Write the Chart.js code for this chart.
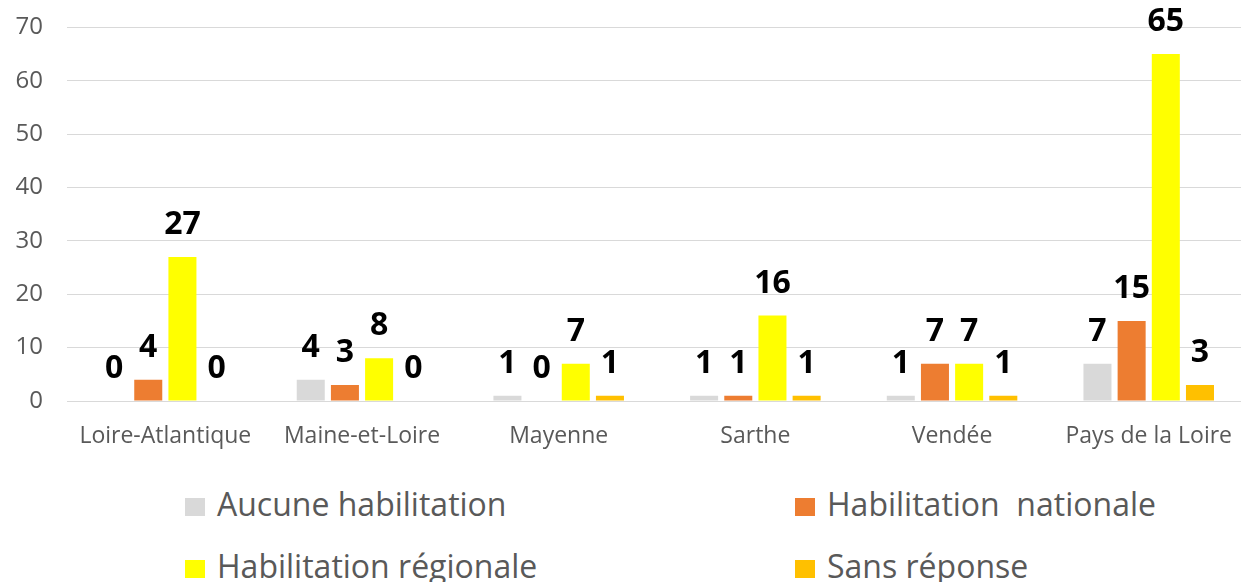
<!DOCTYPE html>
<html>
<head>
<meta charset="utf-8">
<script src="https://cdn.jsdelivr.net/npm/chart.js@4/dist/chart.umd.min.js"></script>
<style>
  html, body { margin: 0; padding: 0; background: #fff; }
  body { width: 1241px; height: 582px; position: relative; overflow: hidden; font-family: "Open Sans", sans-serif; }
  #wrap { position: absolute; left: 0; top: -11px; width: 1241px; height: 471px; overflow: hidden; }
  .leg { position: absolute; height: 40px; color: #595959; font-size: 32px; font-weight: 400; white-space: pre; line-height: 40px; }
  .leg i { position: absolute; width: 20px; height: 18px; }
  .leg span { position: absolute; top: 0; }
</style>
</head>
<body>
<div id="wrap"><canvas id="c" width="1254" height="471"></canvas></div>
<div id="legend"></div>
<script>
const categories = ["Loire-Atlantique", "Maine-et-Loire", "Mayenne", "Sarthe", "Vendée", "Pays de la Loire"];
const seriesNames = ["Aucune habilitation", "Habilitation  nationale", "Habilitation régionale", "Sans réponse"];
const aucune = [0, 4, 1, 1, 1, 7];
const nationale = [4, 3, 0, 1, 7, 15];
const regionale = [27, 8, 7, 16, 7, 65];
const sansReponse = [0, 0, 1, 1, 1, 3];
const yTicks = [0, 10, 20, 30, 40, 50, 60, 70];
const colors = ["#d9d9d9", "#ed7d31", "#ffff00", "#ffc000"];
const seriesValues = [aucune, nationale, regionale, sansReponse];

const labelPlugin = {
  id: "barLabels",
  afterDatasetsDraw(chart) {
    const ctx = chart.ctx;
    ctx.save();
    ctx.font = "bold 32px 'Open Sans', sans-serif";
    ctx.fillStyle = "#000";
    ctx.textAlign = "center";
    ctx.textBaseline = "alphabetic";
    chart.data.datasets.forEach((ds, i) => {
      const meta = chart.getDatasetMeta(i);
      meta.data.forEach((bar, j) => {
        ctx.fillText(String(ds.data[j]), bar.x, bar.y - 23);
      });
    });
    ctx.restore();
  }
};

new Chart(document.getElementById("c"), {
  type: "bar",
  data: {
    labels: categories,
    datasets: seriesValues.map((vals, i) => ({
      label: seriesNames[i],
      data: vals,
      backgroundColor: colors[i],
      borderWidth: 0,
      categoryPercentage: 0.695,
      barPercentage: 0.82
    }))
  },
  options: {
    responsive: false,
    animation: false,
    layout: { autoPadding: false, padding: { top: 16, right: 0, left: 0, bottom: 0 } },
    plugins: { legend: { display: false }, tooltip: { enabled: false } },
    scales: {
      x: {
        grid: { display: false, drawTicks: false },
        border: { display: true, color: "#d9d9d9", width: 1 },
        ticks: { color: "#595959", font: { size: 23, family: "'Open Sans', sans-serif" }, padding: 22, maxRotation: 0, autoSkip: false },
        afterFit(scale) { scale.height = 59; }
      },
      y: {
        min: 0, max: 70,
        afterBuildTicks(scale) { scale.ticks = yTicks.map(v => ({ value: v })); },
        grid: { color: "#d9d9d9", lineWidth: 1, drawTicks: false },
        border: { display: false },
        ticks: { color: "#595959", font: { size: 24, family: "'Open Sans', sans-serif" }, padding: 24 },
        afterFit(scale) { scale.width = 67; }
      }
    }
  },
  plugins: [labelPlugin]
});

// legend: [swatch left, text left, row baseline]
const legendPos = [[185, 217, 515], [795, 827, 515], [185, 217, 577], [795, 827, 577]];
const legend = document.getElementById("legend");
seriesNames.forEach((name, i) => {
  const d = document.createElement("div");
  d.className = "leg";
  d.style.left = "0px";
  d.style.top = (legendPos[i][2] - 31) + "px";
  const sw = document.createElement("i");
  sw.style.background = colors[i];
  sw.style.left = legendPos[i][0] + "px";
  sw.style.top = "14px";
  d.appendChild(sw);
  const t = document.createElement("span");
  t.style.left = legendPos[i][1] + "px";
  t.textContent = name;
  d.appendChild(t);
  legend.appendChild(d);
});
</script>
</body>
</html>
